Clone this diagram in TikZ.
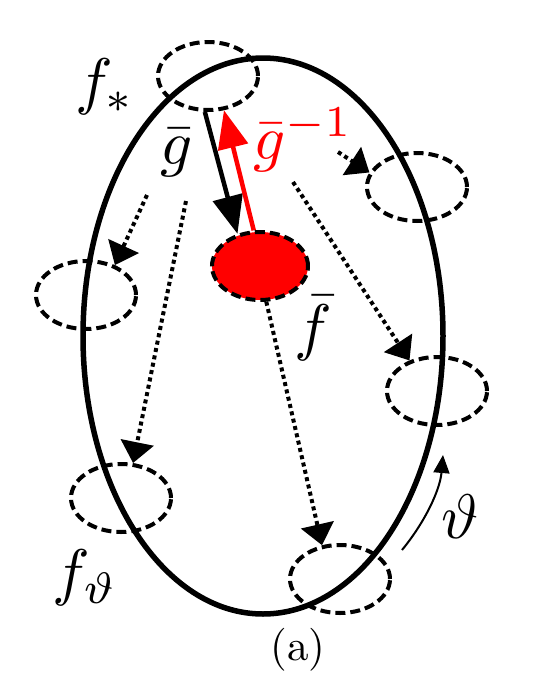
\documentclass[tikz,border=0pt]{standalone}
\usetikzlibrary{shapes.geometric,arrows.meta}
\begin{document}
\begin{tikzpicture}[x=1pt,y=-1pt,
  bigell/.style={ellipse, draw, line width=5.5pt, minimum width=360pt, minimum height=556pt, inner sep=0pt},
  dashell/.style={ellipse, draw, line width=4pt, dash pattern=on 10pt off 5pt, minimum width=100pt, minimum height=68pt, inner sep=0pt},
  redell/.style={dashell, fill=red, minimum width=96pt},
  solidarr/.style={line width=4.5pt, -{Triangle[length=38pt,width=30pt]}},
  dotarr/.style={line width=4pt, dash pattern=on 4pt off 3.5pt, -{Triangle[length=21pt,width=33pt]}},
  thinarr/.style={line width=2pt, -{Triangle[length=18pt,width=16pt]}},
  mlabel/.style={inner sep=0pt, scale=6.3},
  caplabel/.style={inner sep=0pt, scale=4.3}]
\useasboundingbox (0,0) rectangle (548,686);
\node[bigell] (big) at (263,336) {};
\node[dashell] (T) at (208,76) {};
\node[dashell] (RT) at (417,187) {};
\node[dashell] (L) at (86,295) {};
\node[dashell] (RM) at (437,391) {};
\node[dashell] (BL) at (121,498) {};
\node[dashell] (B) at (340,579) {};
\node[redell] (R) at (260,266) {};
% free start points of dotted arrows
\coordinate (sa) at (147,195);
\coordinate (sb) at (186,201);
\coordinate (sc) at (338,152);
\coordinate (sd) at (293,182);
\coordinate (th1) at (402,550);
\coordinate (th2) at (443,455);
% arrows
\draw[solidarr] (T.-95) -- (R.125);
\draw[solidarr, red] (R.100) -- (T.-65);
\draw[dotarr] (sa) -- (L.46);
\draw[dotarr] (sb) -- (BL.71);
\draw[dotarr] (sc) -- (RT.163);
\draw[dotarr] (sd) -- (RM.132);
\draw[dotarr] (R.-80) -- (B.118);
\draw[thinarr] (th1) .. controls (425,522) and (440,490) .. (th2);
% labels
\node[mlabel] (lfs) at (105,87) {$f_*$};
\node[mlabel] (lg) at (177,153) {$\bar g$};
\node[mlabel, text=red] (lgi) at (303,140) {$\bar g^{-1}$};
\node[mlabel] (lf) at (313,328) {$\bar f$};
\node[mlabel] (lth) at (460,517) {$\vartheta$};
\node[mlabel] (lft) at (85,578) {$f_\vartheta$};
\node[caplabel] (cap) at (298,650) {(a)};
\end{tikzpicture}
\end{document}
